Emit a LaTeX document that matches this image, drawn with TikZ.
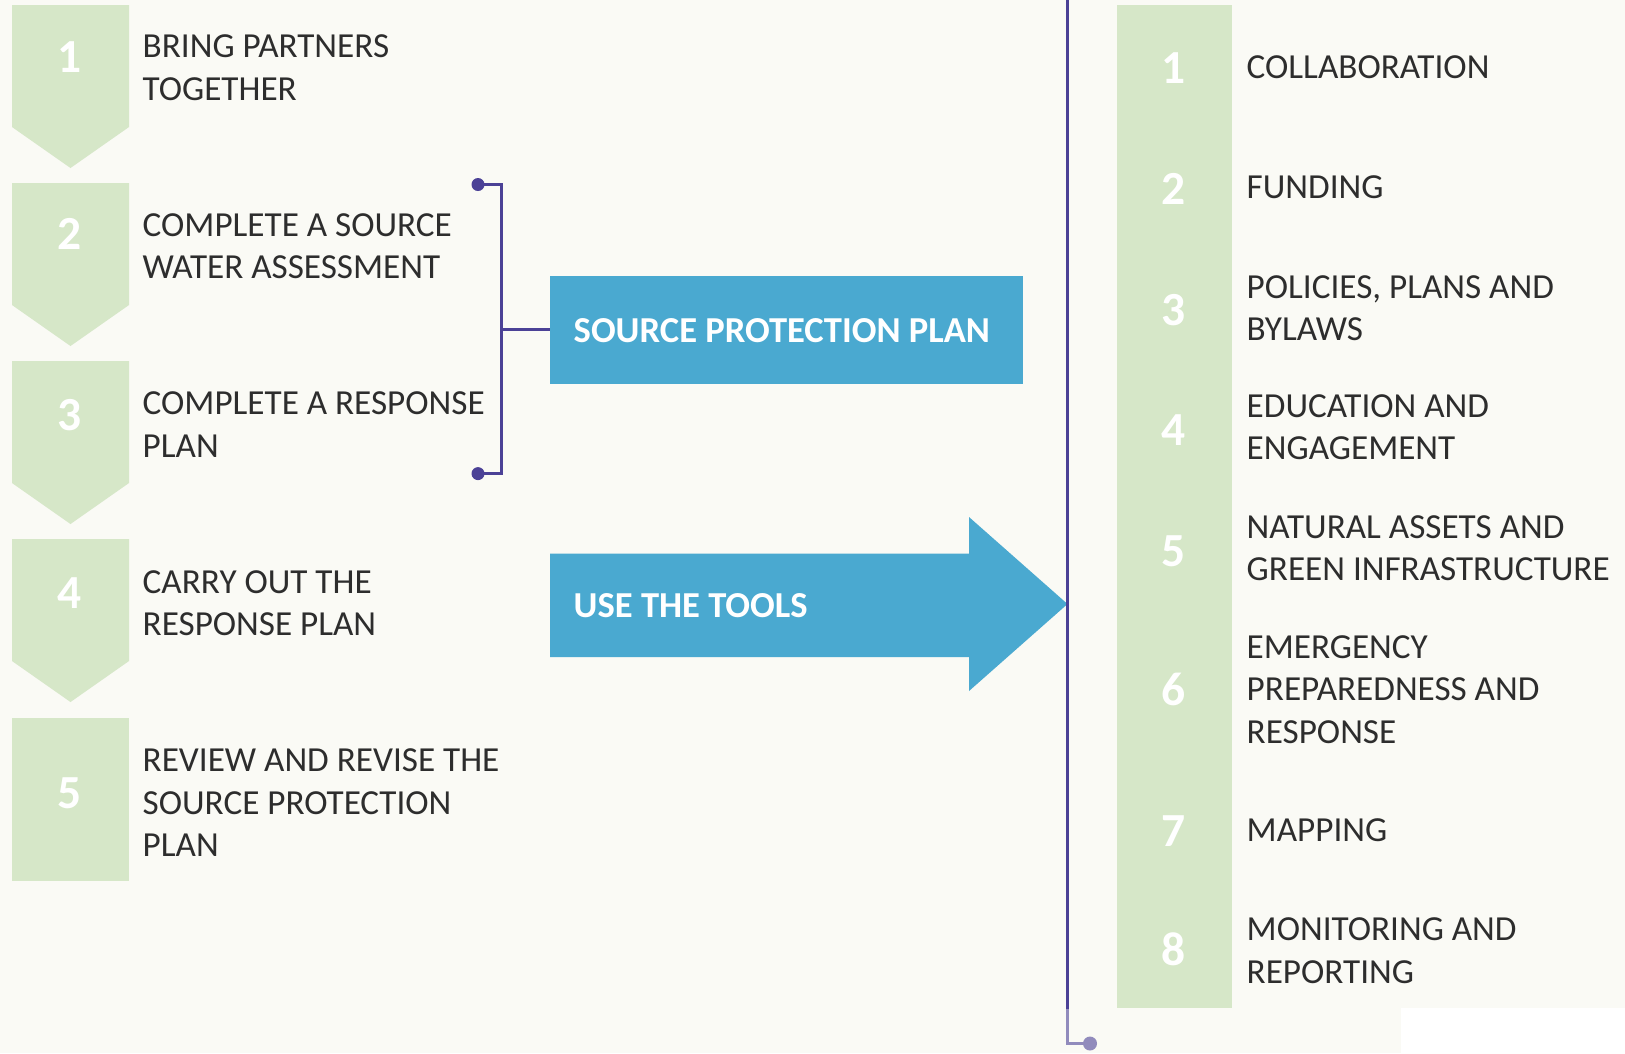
\documentclass[tikz,border=0pt]{standalone}
\usepackage{fontspec}
\setmainfont{Carlito}
\usetikzlibrary{positioning}

\definecolor{bgcol}{RGB}{250,250,245}
\definecolor{stepgreen}{RGB}{214,231,200}
\definecolor{planblue}{RGB}{74,169,208}
\definecolor{linepurple}{RGB}{75,65,150}
\definecolor{textgray}{RGB}{45,45,45}

\begin{document}
\begin{tikzpicture}[x=0.01cm,y=-0.01cm,
  num/.style={font=\fontsize{13.5}{13.5}\selectfont\bfseries,text=white,inner sep=0pt},
  step text/.style={font=\fontsize{10}{12.1}\selectfont,text=textgray,anchor=west,align=left,inner sep=0pt},
  blue text/.style={font=\fontsize{10.4}{12}\selectfont\bfseries,text=white,anchor=west,inner sep=0pt},
  purple line/.style={draw=linepurple,line width=0.9pt},
  dot/.style={circle,fill=linepurple,inner sep=0pt,minimum size=1.3mm}]

  \useasboundingbox[fill=bgcol] (0,0) rectangle (1625,1053);

  % steps on the left
  \fill[stepgreen] (12,5) -- (129,5) -- (129,127) -- (70.5,168) -- (12,127) -- cycle;
  \fill[stepgreen] (12,183) -- (129,183) -- (129,305) -- (70.5,346) -- (12,305) -- cycle;
  \fill[stepgreen] (12,361) -- (129,361) -- (129,483) -- (70.5,524) -- (12,483) -- cycle;
  \fill[stepgreen] (12,539) -- (129,539) -- (129,661) -- (70.5,702) -- (12,661) -- cycle;
  \fill[stepgreen] (12,718) rectangle (129,881);

  \node[num] (n1) at (70,57) {1};
  \node[num] (n2) at (70,234) {2};
  \node[num] (n3) at (70,415) {3};
  \node[num] (n4) at (70,593) {4};
  \node[num] (n5) at (70,793) {5};

  \node[step text] (s1) at (142,67.9) {BRING PARTNERS\\TOGETHER};
  \node[step text] (s2) at (142,246) {COMPLETE A SOURCE\\WATER ASSESSMENT};
  \node[step text] (s3) at (142,424.4) {COMPLETE A RESPONSE\\PLAN};
  \node[step text] (s4) at (142,603) {CARRY OUT THE\\RESPONSE PLAN};
  \node[step text] (s5) at (142,803) {REVIEW AND REVISE THE\\SOURCE PROTECTION\\PLAN};

  % bracket and plan box
  \fill[planblue] (550,276) rectangle (1023,383.5);
  \node[blue text] (spp) at (573,330.6) {SOURCE PROTECTION PLAN};
  \coordinate (box) at (550,329.8);
  \node[dot] (d1) at (478,184.5) {};
  \node[dot] (d2) at (478,473.6) {};
  \coordinate (b) at (501.6,329.8);
  \draw[purple line] (d1.center) -| (b) |- (d2.center);
  \draw[purple line] (b) -- (box);

  % arrow
  \fill[planblue] (550,553.5) -- (969,553.5) -- (969,517) -- (1067.5,604)
    -- (969,691) -- (969,657) -- (550,657) -- cycle;
  \node[blue text] (tools) at (573,606) {USE THE TOOLS};

  % tools on the right
  \coordinate (top) at (1067.5,0);
  \node[dot,minimum size=1.4mm] (end) at (1090,1043.5) {};
  \draw[purple line] (top) |- (end.center);

  \fill[stepgreen] (1117,5) rectangle (1232,1008);

  \node[num] (t1) at (1174,68.4) {1};
  \node[num] (t2) at (1174,188.6) {2};
  \node[num] (t3) at (1174,309.9) {3};
  \node[num] (t4) at (1174,430) {4};
  \node[num] (t5) at (1174,551.4) {5};
  \node[num] (t6) at (1174,689) {6};
  \node[num] (t7) at (1174,831) {7};
  \node[num] (t8) at (1174,949) {8};

  \node[step text] (r1) at (1246,67.4) {COLLABORATION};
  \node[step text] (r2) at (1246,187.6) {FUNDING};
  \node[step text] (r3) at (1246,308.3) {POLICIES, PLANS AND\\BYLAWS};
  \node[step text] (r4) at (1246,427.4) {EDUCATION AND\\ENGAGEMENT};
  \node[step text] (r5) at (1246,548.3) {NATURAL ASSETS AND\\GREEN INFRASTRUCTURE};
  \node[step text] (r6) at (1246,689.5) {EMERGENCY\\PREPAREDNESS AND\\RESPONSE};
  \node[step text] (r7) at (1246,830) {MAPPING};
  \node[step text] (r8) at (1246,950.4) {MONITORING AND\\REPORTING};

  % faded band at the bottom
  \fill[bgcol,opacity=0.4] (0,1009) rectangle (1625,1053);
  \fill[white] (1401,1008) rectangle (1625,1053);
\end{tikzpicture}
\end{document}
